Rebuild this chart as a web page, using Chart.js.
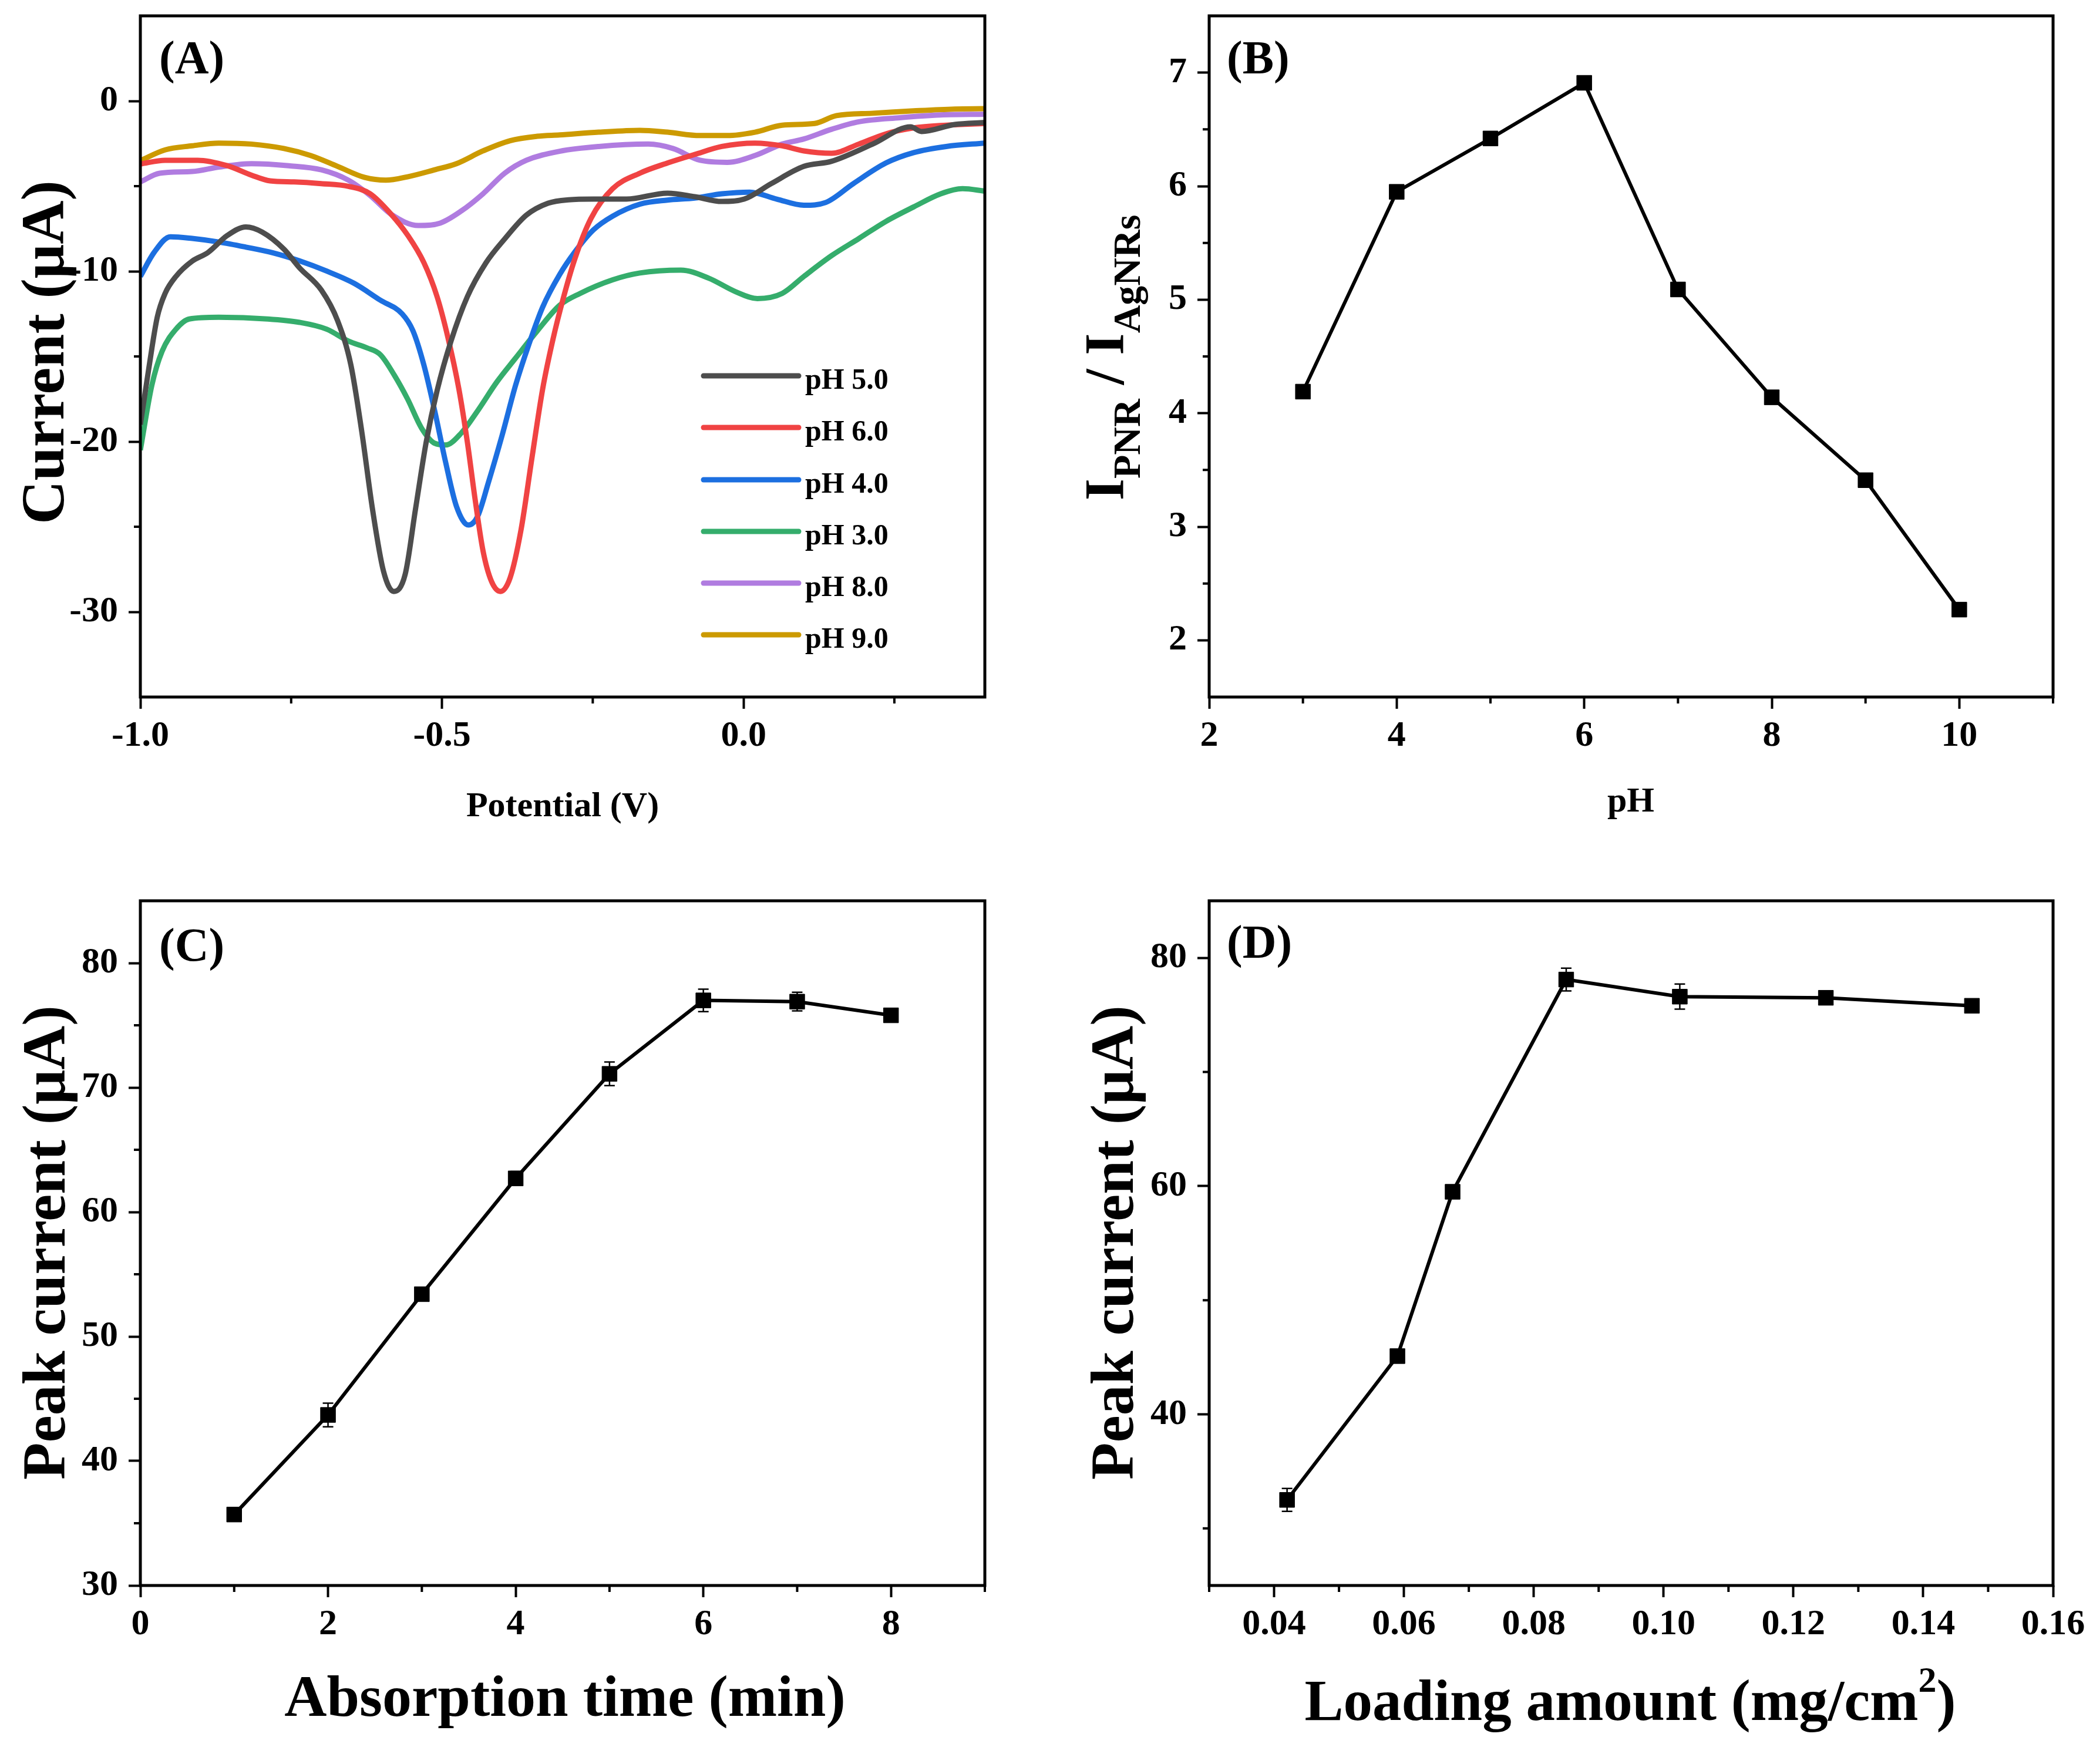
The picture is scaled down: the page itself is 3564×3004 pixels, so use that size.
<!DOCTYPE html>
<html>
<head>
<meta charset="utf-8">
<script src="https://cdn.jsdelivr.net/npm/chart.js@4.4.1/dist/chart.umd.min.js"></script>
<style>
  html, body { margin: 0; padding: 0; background: #fff; }
  body { width: 3564px; height: 3004px; position: relative; overflow: hidden; }
  canvas { position: absolute; }
</style>
</head>
<body>
<canvas id="panelA" width="1782" height="1500" style="left:0px;top:0px"></canvas>
<canvas id="panelB" width="1782" height="1500" style="left:1782px;top:0px"></canvas>
<canvas id="panelC" width="1782" height="1504" style="left:0px;top:1500px"></canvas>
<canvas id="panelD" width="1782" height="1504" style="left:1782px;top:1500px"></canvas>
<script>
const FONT = "'Liberation Serif', 'Times New Roman', serif";

// ---- (A) DPV curves, potential (V) vs current (uA)
const potentialPH5 = [-1.000, -0.986, -0.972, -0.959, -0.941, -0.914, -0.888, -0.856, -0.825, -0.798,
  -0.762, -0.736, -0.700, -0.673, -0.651, -0.633, -0.615, -0.597, -0.580, -0.561, -0.544, -0.526,
  -0.508, -0.485, -0.458, -0.427, -0.396, -0.360, -0.324, -0.290, -0.249, -0.194, -0.126, -0.081,
  -0.036, 0.001, 0.046, 0.100, 0.146, 0.214, 0.277, 0.295, 0.350, 0.400];
const currentPH5 = [-19.0, -15.7, -12.7, -11.3, -10.3, -9.4, -8.9, -7.9, -7.4, -7.7,
  -8.7, -9.8, -11.1, -12.9, -15.5, -19.4, -24.0, -27.6, -28.8, -27.8, -24.0, -20.0,
  -17.0, -14.1, -11.5, -9.5, -8.1, -6.7, -6.0, -5.8, -5.76, -5.76, -5.41, -5.62,
  -5.90, -5.76, -4.85, -3.84, -3.54, -2.53, -1.52, -1.79, -1.38, -1.26];

const potentialPH6 = [-1.000, -0.959, -0.905, -0.856, -0.816, -0.785, -0.745, -0.700, -0.655, -0.619,
  -0.584, -0.557, -0.530, -0.508, -0.490, -0.472, -0.458, -0.445, -0.432, -0.418, -0.403, -0.387,
  -0.369, -0.351, -0.333, -0.316, -0.299, -0.280, -0.253, -0.217, -0.172, -0.126, -0.081, -0.036,
  0.019, 0.064, 0.100, 0.146, 0.191, 0.236, 0.282, 0.336, 0.400];
const currentPH6 = [-3.7, -3.48, -3.48, -3.80, -4.35, -4.69, -4.75, -4.85, -5.01, -5.45,
  -6.66, -7.87, -9.49, -11.5, -13.9, -16.9, -20.0, -23.4, -26.4, -28.2, -28.8, -28.0,
  -25.2, -21.0, -16.9, -14.0, -11.6, -9.3, -6.9, -5.15, -4.24, -3.64, -3.14, -2.67,
  -2.47, -2.63, -2.93, -3.07, -2.53, -1.93, -1.58, -1.42, -1.32];

const potentialPH4 = [-1.000, -0.977, -0.950, -0.914, -0.870, -0.825, -0.780, -0.736, -0.691, -0.646,
  -0.602, -0.566, -0.548, -0.530, -0.512, -0.494, -0.476, -0.456, -0.441, -0.423, -0.400, -0.378,
  -0.356, -0.333, -0.305, -0.280, -0.249, -0.217, -0.172, -0.126, -0.081, -0.036, 0.010, 0.055,
  0.100, 0.136, 0.182, 0.236, 0.282, 0.336, 0.400];
const currentPH4 = [-10.3, -8.88, -7.97, -8.07, -8.28, -8.58, -8.92, -9.39, -9.99, -10.7,
  -11.7, -12.5, -13.5, -15.5, -18.2, -21.2, -23.8, -24.9, -24.4, -22.4, -19.6, -16.7,
  -14.3, -12.1, -10.2, -8.88, -7.57, -6.76, -6.06, -5.82, -5.70, -5.45, -5.35, -5.76,
  -6.12, -5.96, -4.85, -3.64, -3.03, -2.67, -2.47];

const potentialPH3 = [-1.000, -0.981, -0.964, -0.941, -0.919, -0.870, -0.789, -0.736, -0.691, -0.655,
  -0.624, -0.602, -0.579, -0.557, -0.534, -0.512, -0.494, -0.468, -0.441, -0.409, -0.378, -0.342,
  -0.305, -0.271, -0.217, -0.172, -0.104, -0.058, -0.013, 0.023, 0.064, 0.100, 0.146, 0.191,
  0.236, 0.282, 0.327, 0.363, 0.400];
const currentPH3 = [-20.5, -16.7, -14.7, -13.4, -12.8, -12.7, -12.8, -13.0, -13.4, -14.1,
  -14.5, -14.9, -16.1, -17.5, -19.2, -20.1, -20.2, -19.5, -18.2, -16.5, -15.1, -13.5,
  -12.0, -11.3, -10.5, -10.1, -9.93, -10.4, -11.2, -11.6, -11.3, -10.3, -9.08, -8.08,
  -7.07, -6.22, -5.45, -5.15, -5.29];

const potentialPH8 = [-1.000, -0.968, -0.914, -0.870, -0.816, -0.754, -0.700, -0.655, -0.619, -0.584,
  -0.539, -0.503, -0.468, -0.432, -0.396, -0.360, -0.305, -0.240, -0.158, -0.117, -0.072, -0.027,
  0.019, 0.064, 0.100, 0.146, 0.191, 0.259, 0.327, 0.400];
const currentPH8 = [-4.75, -4.24, -4.14, -3.88, -3.68, -3.80, -4.04, -4.65, -5.55, -6.66,
  -7.31, -7.17, -6.46, -5.45, -4.24, -3.48, -2.95, -2.67, -2.53, -2.79, -3.48, -3.60,
  -3.20, -2.53, -2.23, -1.66, -1.22, -0.98, -0.82, -0.78];

const potentialPH9 = [-1.000, -0.959, -0.914, -0.870, -0.816, -0.762, -0.718, -0.673, -0.628, -0.593,
  -0.557, -0.512, -0.476, -0.432, -0.387, -0.342, -0.305, -0.240, -0.172, -0.126, -0.072, -0.027,
  0.019, 0.064, 0.118, 0.154, 0.214, 0.282, 0.350, 0.400];
const currentPH9 = [-3.5, -2.87, -2.63, -2.47, -2.53, -2.79, -3.20, -3.84, -4.49, -4.65,
  -4.45, -4.04, -3.68, -2.93, -2.33, -2.07, -1.99, -1.83, -1.72, -1.83, -2.03, -2.03,
  -1.83, -1.42, -1.32, -0.86, -0.72, -0.58, -0.47, -0.45];

const seriesLabelsA = ["pH 5.0", "pH 6.0", "pH 4.0", "pH 3.0", "pH 8.0", "pH 9.0"];
const seriesColorsA = ["#4d4d4d", "#f04343", "#1c6fe0", "#35ad6c", "#b07ce0", "#cc9a00"];

// ---- (B) ratio vs pH
const phValues = [3, 4, 5, 6, 7, 8, 9, 10];
const ratioValues = [4.19, 5.95, 6.42, 6.91, 5.09, 4.14, 3.41, 2.27];

// ---- (C) peak current vs absorption time
const timeValues = [1, 2, 3, 4, 5, 6, 7, 8];
const peakByTime = [35.7, 43.7, 53.4, 62.7, 71.1, 77.0, 76.9, 75.8];
const errByTime = [0.2, 0.95, 0.4, 0.55, 0.95, 0.9, 0.75, 0.3];

// ---- (D) peak current vs loading amount
const loadingValues = [0.042, 0.059, 0.0675, 0.085, 0.1025, 0.125, 0.1475];
const peakByLoading = [32.5, 45.1, 59.5, 78.1, 76.6, 76.5, 75.8];
const errByLoading = [1.0, 0.3, 0.3, 1.0, 1.1, 0.55, 0.3];

// ---- ticks
const ticksAx = [-1.0, -0.5, 0.0], minorAx = [-0.75, -0.25, 0.25];
const ticksAy = [-30, -20, -10, 0], minorAy = [-25, -15, -5];
const ticksBx = [2, 4, 6, 8, 10], minorBx = [3, 5, 7, 9, 11];
const ticksBy = [2, 3, 4, 5, 6, 7], minorBy = [2.5, 3.5, 4.5, 5.5, 6.5];
const ticksCx = [0, 2, 4, 6, 8], minorCx = [1, 3, 5, 7, 9];
const ticksCy = [30, 40, 50, 60, 70, 80], minorCy = [35, 45, 55, 65, 75];
const ticksDx = [0.04, 0.06, 0.08, 0.10, 0.12, 0.14, 0.16], minorDx = [0.03, 0.05, 0.07, 0.09, 0.11, 0.13, 0.15];
const ticksDy = [40, 60, 80], minorDy = [30, 50, 70];

const zip = (xs, ys) => xs.map((x, i) => ({ x: x, y: ys[i] }));

// decoration per canvas (page coordinates), kept out of Chart's option resolver
const deco = {
  panelA: {
    origin: [0, 0], minorX: minorAx, minorY: minorAy, letter: ["(A)", 271, 104],
    xTitle: { runs: [["Potential (V)", 60, 0]], x: 958, y: 1390 },
    yTitle: { runs: [["Current (\u03bcA)", 103, 0]], x: 108, y: 600 },
    legend: { x0: 1198, x1: 1360, tx: 1371, y: [640, 728, 817, 905, 993, 1081] }
  },
  panelB: {
    origin: [1782, 0], minorX: minorBx, minorY: minorBy, letter: ["(B)", 2089, 104],
    xTitle: { runs: [["pH", 60, 0]], x: 2777, y: 1382 },
    yTitle: {
      runs: [["I", 96, 0], ["PNR", 66, 28], [" / ", 96, 0], ["I", 96, 0], ["AgNRs", 66, 28]],
      x: 1913, y: 609
    }
  },
  panelC: {
    origin: [0, 1500], minorX: minorCx, minorY: minorCy, errors: errByTime, letter: ["(C)", 271, 1615],
    xTitle: { runs: [["Absorption time (min)", 100, 0]], x: 962, y: 2922 },
    yTitle: { runs: [["Peak current (\u03bcA)", 104, 0]], x: 110, y: 2116 }
  },
  panelD: {
    origin: [1782, 1500], minorX: minorDx, minorY: minorDy, errors: errByLoading, letter: ["(D)", 2089, 1610],
    xTitle: { runs: [["Loading amount (mg/cm", 99, 0], ["2", 62, -48], [")", 99, 0]], x: 2776, y: 2929 },
    yTitle: { runs: [["Peak current (\u03bcA)", 104, 0]], x: 1929, y: 2116 }
  }
};

function drawRuns(ctx, runs, x, y, vertical) {
  const widths = runs.map(r => {
    ctx.font = "bold " + r[1] + "px " + FONT;
    return ctx.measureText(r[0]).width;
  });
  const total = widths.reduce((s, w) => s + w, 0);
  ctx.save();
  ctx.translate(x, y);
  if (vertical) ctx.rotate(-Math.PI / 2);
  ctx.fillStyle = "#000";
  ctx.textAlign = "left";
  ctx.textBaseline = "alphabetic";
  let cx = -total / 2;
  runs.forEach((r, i) => {
    ctx.font = "bold " + r[1] + "px " + FONT;
    ctx.fillText(r[0], cx, r[2]);
    cx += widths[i];
  });
  ctx.restore();
}

const panelDeco = {
  id: "panelDeco",
  afterDatasetsDraw(chart) {
    const o = deco[chart.canvas.id];
    if (!o || !o.errors) return;
    const ctx = chart.ctx, sx = chart.scales.x, sy = chart.scales.y;
    const pts = chart.data.datasets[0].data;
    ctx.save();
    ctx.strokeStyle = "#000";
    ctx.lineWidth = 2.5;
    pts.forEach((p, i) => {
      const px = sx.getPixelForValue(p.x);
      const top = sy.getPixelForValue(p.y + o.errors[i]);
      const bot = sy.getPixelForValue(p.y - o.errors[i]);
      ctx.beginPath();
      ctx.moveTo(px, top); ctx.lineTo(px, bot);
      ctx.moveTo(px - 9, top); ctx.lineTo(px + 9, top);
      ctx.moveTo(px - 9, bot); ctx.lineTo(px + 9, bot);
      ctx.stroke();
    });
    ctx.restore();
  },
  afterDraw(chart) {
    const o = deco[chart.canvas.id];
    if (!o) return;
    const ctx = chart.ctx, a = chart.chartArea;
    const sx = chart.scales.x, sy = chart.scales.y;
    const ox = o.origin[0], oy = o.origin[1];
    ctx.save();
    ctx.strokeStyle = "#000";
    ctx.lineWidth = 4;
    ctx.beginPath();
    o.minorX.forEach(v => {
      const px = sx.getPixelForValue(v);
      ctx.moveTo(px, a.bottom); ctx.lineTo(px, a.bottom + 11);
    });
    o.minorY.forEach(v => {
      const py = sy.getPixelForValue(v);
      ctx.moveTo(a.left - 11, py); ctx.lineTo(a.left, py);
    });
    ctx.stroke();
    ctx.lineWidth = 5;
    ctx.strokeRect(a.left, a.top, a.right - a.left, a.bottom - a.top);

    // panel letter
    ctx.fillStyle = "#000";
    ctx.font = "bold 80px " + FONT;
    ctx.textAlign = "left";
    ctx.textBaseline = "middle";
    ctx.fillText(o.letter[0], o.letter[1] - ox, o.letter[2] - oy);

    drawRuns(ctx, o.xTitle.runs, o.xTitle.x - ox, o.xTitle.y - oy, false);
    drawRuns(ctx, o.yTitle.runs, o.yTitle.x - ox, o.yTitle.y - oy, true);

    if (o.legend) {
      const L = o.legend;
      chart.data.datasets.forEach((ds, i) => {
        const y = L.y[i] - oy;
        ctx.strokeStyle = ds.borderColor;
        ctx.lineWidth = 9;
        ctx.lineCap = "round";
        ctx.beginPath();
        ctx.moveTo(L.x0 - ox, y); ctx.lineTo(L.x1 - ox, y);
        ctx.stroke();
        ctx.fillStyle = "#000";
        ctx.font = "bold 50px " + FONT;
        ctx.textAlign = "left";
        ctx.textBaseline = "alphabetic";
        ctx.fillText(ds.label, L.tx - ox, y + 22);
      });
    }
    ctx.restore();
  }
};
Chart.register(panelDeco);

function axis(min, max, ticks, fmt, horizontal, size) {
  return {
    type: "linear",
    position: horizontal ? "bottom" : "left",
    min: min,
    max: max,
    afterBuildTicks: s => { s.ticks = ticks.map(v => ({ value: v })); },
    afterFit: s => {
      if (horizontal) s.height = size; else s.width = size;
      s.paddingTop = 0; s.paddingBottom = 0; s.paddingLeft = 0; s.paddingRight = 0;
    },
    ticks: {
      callback: fmt,
      autoSkip: false,
      maxRotation: 0,
      color: "#000",
      padding: horizontal ? 10 : 18,
      font: { family: FONT, size: 62, weight: "bold" }
    },
    grid: { drawOnChartArea: false, drawTicks: true, tickLength: 20, tickWidth: 4, tickColor: "#000" },
    border: { display: false }
  };
}

const fmtInt = v => String(Math.round(v));
const fmt1 = v => (Math.abs(v) < 1e-9 ? 0 : v).toFixed(1);
const fmt2 = v => v.toFixed(2);

function baseOptions(pad, xAxis, yAxis) {
  return {
    responsive: false,
    animation: false,
    devicePixelRatio: 1,
    layout: { padding: pad },
    scales: { x: xAxis, y: yAxis },
    plugins: { legend: { display: false }, tooltip: { enabled: false } }
  };
}

function markerSet(xs, ys) {
  return {
    data: zip(xs, ys),
    borderColor: "#000",
    backgroundColor: "#000",
    borderWidth: 6,
    pointStyle: "rect",
    pointRadius: 18,
    pointBorderWidth: 1,
    pointBackgroundColor: "#000",
    tension: 0
  };
}

function buildCharts() {
  const potentialsA = [potentialPH5, potentialPH6, potentialPH4, potentialPH3, potentialPH8, potentialPH9];
  const currentsA = [currentPH5, currentPH6, currentPH4, currentPH3, currentPH8, currentPH9];
  new Chart(document.getElementById("panelA"), {
    type: "line",
    data: {
      datasets: seriesLabelsA.map((lab, i) => ({
        label: lab,
        data: zip(potentialsA[i], currentsA[i]),
        borderColor: seriesColorsA[i],
        borderWidth: 9,
        pointRadius: 0,
        cubicInterpolationMode: "monotone",
        fill: false
      }))
    },
    options: baseOptions({ left: 0, top: 27, right: 105, bottom: 0 },
      axis(-1.0, 0.4, ticksAx, fmt1, true, 313),
      axis(-35, 5, ticksAy, fmtInt, false, 239))
  });

  new Chart(document.getElementById("panelB"), {
    type: "line",
    data: { datasets: [markerSet(phValues, ratioValues)] },
    options: baseOptions({ left: 0, top: 27, right: 68, bottom: 0 },
      axis(2, 11, ticksBx, fmtInt, true, 313),
      axis(1.5, 7.5, ticksBy, fmtInt, false, 277))
  });

  new Chart(document.getElementById("panelC"), {
    type: "line",
    data: { datasets: [markerSet(timeValues, peakByTime)] },
    options: baseOptions({ left: 0, top: 34, right: 105, bottom: 0 },
      axis(0, 9, ticksCx, fmtInt, true, 304),
      axis(30, 85, ticksCy, fmtInt, false, 239))
  });

  new Chart(document.getElementById("panelD"), {
    type: "line",
    data: { datasets: [markerSet(loadingValues, peakByLoading)] },
    options: baseOptions({ left: 0, top: 34, right: 68, bottom: 0 },
      axis(0.03, 0.16, ticksDx, fmt2, true, 304),
      axis(25, 85, ticksDy, fmtInt, false, 277))
  });
}

Promise.all([
  document.fonts.load("bold 60px 'Liberation Serif'"),
  document.fonts.load("bold 100px 'Liberation Serif'", "\u03bc")
]).then(buildCharts, buildCharts);
</script>
</body>
</html>
